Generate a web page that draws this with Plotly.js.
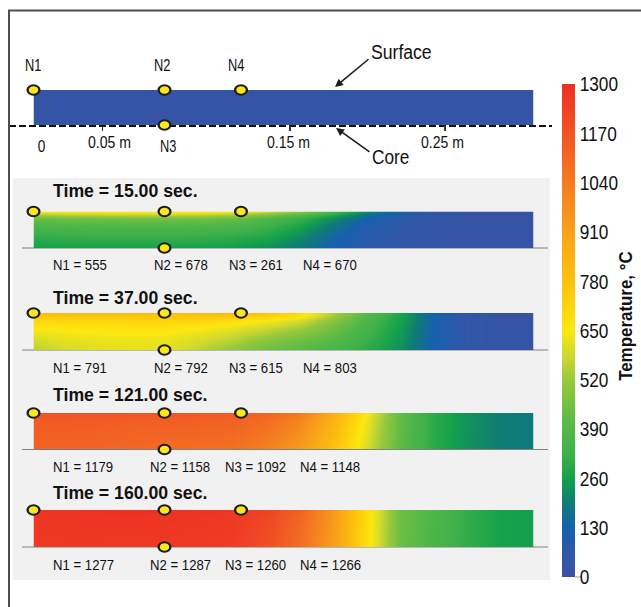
<!DOCTYPE html>
<html><head><meta charset="utf-8">
<script src="https://cdn.plot.ly/plotly-3.0.1.min.js"></script>
<style>html,body{margin:0;padding:0;background:#fff}#c{width:641px;height:607px}</style>
</head><body><div id="c"></div>
<script>
// ---- data ----
var lengthM = [0,.02,.04,.06,.08,.1,.12,.14,.16,.18,.2,.22,.24,.26,.28,.3];
var depth = [0,.3,.6,.8,.92,1];           // 0 = core, 1 = surface
var times = ["15.00","37.00","121.00","160.00"];
var n1 = [555,791,1179,1277];
var n2 = [678,792,1158,1287];
var n3 = [261,615,1092,1260];
var n4 = [670,803,1148,1266];
var nodeNames = ["N1","N2","N3","N4"];
var nodeX = [0,0.0786,0.0786,0.1245];
var nodeY = [1,1,0,1];
var tickVals = [0.0415,0.154,0.2468];
var tickLabels = ["0.05 m","0.15 m","0.25 m"];
var cbTicks = [0,130,260,390,520,650,780,910,1040,1170,1300];

var field0 = [
 [30,30,30,30,30,30,30,30,30,30,30,30,30,30,30,30],
 [30,30,30,30,30,30,30,30,30,30,30,30,30,30,30,30],
 [30,30,30,30,30,30,30,30,30,30,30,30,30,30,30,30],
 [30,30,30,30,30,30,30,30,30,30,30,30,30,30,30,30],
 [30,30,30,30,30,30,30,30,30,30,30,30,30,30,30,30],
 [30,30,30,30,30,30,30,30,30,30,30,30,30,30,30,30]];
var field15 = [
 [255,262,265,262,261,258,250,225,185,120,75,50,38,30,30,30],
 [300,310,315,315,315,310,300,275,215,140,85,55,40,30,30,30],
 [360,370,375,378,378,372,360,325,265,175,100,62,42,30,30,30],
 [430,440,445,450,450,445,425,380,315,220,125,72,45,32,30,30],
 [540,560,570,575,575,570,540,480,395,290,170,95,55,35,30,30],
 [640,650,660,672,678,672,650,590,500,360,215,125,65,38,30,30]];
var field37 = [
 [550,590,610,618,615,560,500,440,400,360,300,225,120,55,35,30],
 [600,620,630,632,630,600,560,500,450,400,325,240,122,55,35,30],
 [650,660,665,665,665,650,620,580,530,445,350,250,125,55,35,30],
 [700,710,710,715,715,715,690,650,600,490,370,262,128,55,35,30],
 [760,770,770,770,770,770,760,730,670,525,385,270,130,55,35,30],
 [790,798,800,800,792,800,803,770,690,545,395,275,130,55,35,30]];
var field121 = [
 [1120,1120,1115,1100,1092,1085,1075,1020,930,790,600,410,295,232,195,185],
 [1130,1130,1125,1115,1108,1102,1092,1045,950,805,610,412,297,232,195,185],
 [1142,1142,1136,1128,1125,1120,1110,1070,980,825,622,415,298,234,195,185],
 [1150,1150,1148,1142,1140,1135,1125,1090,1005,840,632,418,298,234,195,185],
 [1162,1160,1155,1152,1150,1145,1138,1108,1025,850,640,420,300,235,195,185],
 [1179,1172,1165,1160,1158,1155,1148,1120,1040,860,650,420,300,235,195,185]];
var field160 = [
 [1262,1262,1262,1260,1260,1255,1245,1190,1080,920,680,438,368,308,265,256],
 [1265,1268,1268,1268,1266,1262,1252,1200,1090,925,682,438,368,308,265,256],
 [1268,1272,1275,1275,1272,1268,1258,1210,1100,930,685,440,370,310,265,256],
 [1270,1275,1280,1280,1278,1272,1262,1218,1110,935,688,440,370,310,265,256],
 [1274,1278,1284,1285,1283,1277,1266,1224,1115,938,690,440,370,310,265,256],
 [1277,1280,1285,1287,1287,1280,1266,1230,1120,940,690,440,370,310,265,256]];

var colorStops = [[0,"#3c50a2"],[65,"#2f58a8"],[130,"#1561ac"],[195,"#0f7d74"],[260,"#13a14b"],[325,"#3eb049"],[390,"#53b848"],[520,"#98c93c"],[585,"#d0d92f"],[650,"#fbe80f"],[715,"#ffd40b"],[780,"#fdc20d"],[910,"#f9a11b"],[1040,"#f47b20"],[1170,"#f15425"],[1300,"#ed2e24"]];

// ---- layout helpers ----
var W=641,H=607,FONT='"Liberation Sans",Arial,sans-serif';
function px(v){return v/W;} function py(v){return 1-v/H;}
var squeeze=[];
function txt(t,x,y,size,opt){opt=opt||{};squeeze.push({k:opt.k||1,left:(opt.a||'left')==='left'});var anchor=opt.a||'left';
  return {text:t,xref:'paper',yref:'paper',x:px(anchor==='left'?x-2:x),y:py(y),showarrow:false,
  xanchor:anchor,yanchor:'middle',textangle:opt.r||0,
  font:{family:FONT,size:size,color:'#111',weight:opt.b?'bold':'normal'}};}

var fields=[field0,field15,field37,field121,field160];
var barTop=[90,211.5,313,413,510], barBot=[125,248,350,449.5,547];
var colorscale=colorStops.map(function(s){return [s[0]/1300,s[1]];});
var traces=[], layout={width:W,height:H,margin:{l:0,r:0,t:0,b:0},paper_bgcolor:'#fff',plot_bgcolor:'rgba(0,0,0,0)',showlegend:false,annotations:[],shapes:[]};

// core centre-line: bottom-most subplot, spans a little further than the bars
var lineX=[-0.0145,0.3115];
layout.xaxis={domain:[px(9),px(552)],range:lineX,anchor:'y',visible:false,fixedrange:true};
layout.yaxis={domain:[py(130),py(122)],range:[-1,1],anchor:'x',visible:false,fixedrange:true};
traces.push({type:'scatter',mode:'lines',x:lineX,y:[0,0],xaxis:'x',yaxis:'y',hoverinfo:'skip',line:{color:'#111',width:2,dash:'7px 3px'}});

fields.forEach(function(f,i){
  var s=String(i+2);
  traces.push({type:'heatmap',x:lengthM,y:depth,z:f,zmin:0,zmax:1300,zsmooth:'best',colorscale:colorscale,xaxis:'x'+s,yaxis:'y'+s,hoverinfo:'skip',
    showscale:i===0,
    colorbar:i===0?{x:562/W,xanchor:'left',xpad:0,ypad:0,y:py(330.5),yanchor:'middle',lenmode:'pixels',len:493,thicknessmode:'pixels',thickness:13,outlinewidth:0,borderwidth:0,
      tickvals:cbTicks,ticks:'',ticklen:6,tickfont:{family:FONT,size:21,color:'#111'}}:undefined});
  layout['xaxis'+s]={domain:[px(33.5),px(533.5)],range:[0,.3],anchor:'y'+s,showgrid:false,zeroline:false,showticklabels:false,showline:false,
    ticks:i===0?'outside':'',tickvals:i===0?tickVals:[],ticklen:5,tickwidth:1.5,tickcolor:'#333',fixedrange:true};
  layout['yaxis'+s]={domain:[py(barBot[i]),py(barTop[i])],range:[0,1],anchor:'x'+s,showgrid:false,zeroline:false,showticklabels:false,showline:false,ticks:'',fixedrange:true};
});
fields.forEach(function(f,i){
  var s=String(i+2);
  traces.push({type:'scatter',mode:'markers',x:nodeX,y:nodeY,xaxis:'x'+s,yaxis:'y'+s,cliponaxis:false,hoverinfo:'skip',
    marker:{size:10,color:'#fbe81c',line:{color:'#1d1d1b',width:2}}});
});

// grey panel, frame and baselines
layout.shapes.push({type:'rect',xref:'paper',yref:'paper',x0:px(13),x1:px(550),y0:py(178),y1:py(580),fillcolor:'#f1f1f2',line:{width:0},layer:'below'});
layout.shapes.push({type:'line',xref:'paper',yref:'paper',x0:px(8),x1:1,y0:py(10.5),y1:py(10.5),line:{color:'#4d4d4d',width:2}});
layout.shapes.push({type:'line',xref:'paper',yref:'paper',x0:px(9),x1:px(9),y0:py(10),y1:0,line:{color:'#4d4d4d',width:2}});
layout.shapes.push({type:'line',xref:'paper',yref:'paper',x0:px(575),x1:px(581),y0:py(577),y1:py(577),line:{color:'#999',width:1}});
[1,2,3,4].forEach(function(i){layout.shapes.push({type:'line',xref:'paper',yref:'paper',x0:px(22),x1:px(548),y0:py(barBot[i]),y1:py(barBot[i]),line:{color:'#808080',width:1},layer:'below'});});

// labels
var A=layout.annotations;
A.push(txt(nodeNames[0],33.5,65.5,16,{a:'center',k:.8}),txt(nodeNames[1],162,65.5,16,{a:'center',k:.8}),txt(nodeNames[3],236,65.5,16,{a:'center',k:.8}),txt(nodeNames[2],169,147,16,{a:'center',k:.8}));
A.push(txt('0',41,147,16,{a:'center',k:.85}));
[109.5,288.5,442].forEach(function(x,i){A.push(txt(tickLabels[i],x,142.5,16,{a:'center',k:.88}));});
A.push(txt('Surface',371,52,20,{k:.88}),txt('Core',372,157,20,{k:.86}));
A.push({text:'',xref:'paper',yref:'paper',x:px(335),y:py(87),ax:35,ay:-29,showarrow:true,arrowhead:2,arrowsize:1,arrowwidth:1.6,arrowcolor:'#1d1d1b'});squeeze.push({k:1});
A.push({text:'',xref:'paper',yref:'paper',x:px(336),y:py(128),ax:35,ay:25,showarrow:true,arrowhead:2,arrowsize:1,arrowwidth:1.6,arrowcolor:'#1d1d1b'});squeeze.push({k:1});
var titleY=[191,297,394,492], rowY=[264,367,466,564];
var rowX=[[53,154,229,303],[53,154,229,303],[53,150,225,300],[53,150,225,300]];
times.forEach(function(t,i){
  A.push(txt('Time = '+t+' sec.',53,titleY[i],19,{b:true,k:.93}));
  [n1,n2,n3,n4].forEach(function(arr,j){A.push(txt(nodeNames[j]+' = '+arr[i],rowX[i][j],rowY[i],15.5,{k:.85}));});
});
A.push(txt('Temperature, °C',626,316,18,{a:'center',r:-90,b:true,k:.94}));

function condense(el,k,left){
  var w=el.getComputedTextLength();
  el.setAttribute('textLength',w*k);el.setAttribute('lengthAdjust','spacingAndGlyphs');
  if(left){el.setAttribute('x',parseFloat(el.getAttribute('x')||0)-w*(1-k)/2);}
}
Plotly.newPlot('c',traces,layout,{displayModeBar:false,staticPlot:true}).then(function(gd){
  var root=document.getElementById('c');
  squeeze.forEach(function(s,i){
    var el=root.querySelector('.annotation[data-index="'+i+'"] .annotation-text');
    if(el&&s.k!==1&&el.textContent) condense(el,s.k,s.left);
  });
  root.querySelectorAll('.cbaxis text, .ytick text').forEach(function(el){
    if(el.closest('.infolayer')) {el.setAttribute('text-anchor','start');condense(el,.82,false);}
  });
  // node markers are slightly flattened ellipses
  root.querySelectorAll('.scatterlayer .point').forEach(function(p){
    var t=p.getAttribute('transform')||'';p.setAttribute('transform',t+' scale(1.18,0.95)');
  });
});
</script></body></html>
